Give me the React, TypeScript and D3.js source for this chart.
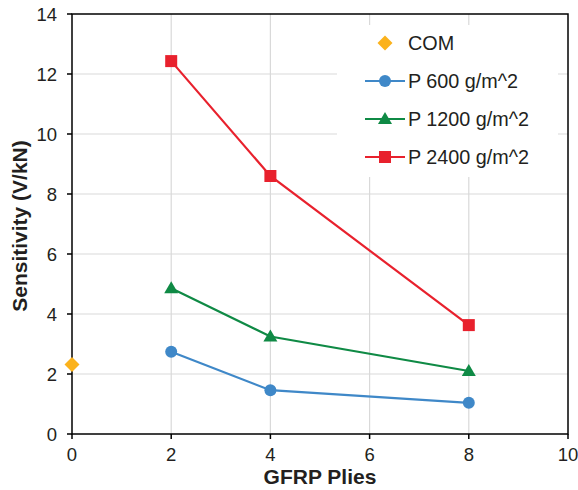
import React from "react";
import * as d3 from "d3";

const plies = [2, 4, 8];
const comPlies = [0];
const comValues = [2.32];
const p600 = [2.74, 1.46, 1.04];
const p1200 = [4.86, 3.25, 2.1];
const p2400 = [12.43, 8.6, 3.63];
const xTicks = [0, 2, 4, 6, 8, 10];
const yTicks = [0, 2, 4, 6, 8, 10, 12, 14];
const legendLabels = ["COM", "P 600 g/m^2", "P 1200 g/m^2", "P 2400 g/m^2"];

const W = 578;
const H = 490;
const left = 72;
const right = 568;
const top = 14;
const bottom = 434;

const font = "'Liberation Sans', Arial, Helvetica, sans-serif";

type Shape = "diamond" | "circle" | "triangle" | "square";

const series = [
  { name: legendLabels[1], values: p600, color: "#3f88c8", shape: "circle" as Shape },
  { name: legendLabels[2], values: p1200, color: "#0f8a45", shape: "triangle" as Shape },
  { name: legendLabels[3], values: p2400, color: "#e8212d", shape: "square" as Shape },
];

function Marker({ shape, x, y, color }: { shape: Shape; x: number; y: number; color: string }) {
  if (shape === "circle") return <circle cx={x} cy={y} r={6} fill={color} />;
  if (shape === "square") return <rect x={x - 6} y={y - 6} width={12} height={12} fill={color} />;
  if (shape === "triangle")
    return <path d={`M${x},${y - 7}L${x + 7},${y + 5}L${x - 7},${y + 5}Z`} fill={color} />;
  return <path d={`M${x},${y - 7.5}L${x + 7.5},${y}L${x},${y + 7.5}L${x - 7.5},${y}Z`} fill={color} />;
}

export default function App() {
  const x = d3.scaleLinear().domain([0, 10]).range([left, right]);
  const y = d3.scaleLinear().domain([0, 14]).range([bottom, top]);
  const line = d3
    .line<[number, number]>()
    .x((d) => x(d[0]))
    .y((d) => y(d[1]));

  const legendX = 337;
  const legendY = 25;
  const rowY = [43, 81, 119, 157];

  return (
    <svg width={W} height={H} style={{ display: "block", position: "absolute", left: 0, top: 0 }}>
      <rect width={W} height={H} fill="#fff" />
      {/* grid */}
      {yTicks.slice(1, -1).map((t) => (
        <line key={"gy" + t} x1={left} x2={right} y1={y(t)} y2={y(t)} stroke="#d9d9d9" strokeWidth={1.2} />
      ))}
      {xTicks.slice(1, -1).map((t) => (
        <line key={"gx" + t} x1={x(t)} x2={x(t)} y1={top} y2={bottom} stroke="#d9d9d9" strokeWidth={1.2} />
      ))}
      {/* legend background */}
      <rect x={legendX} y={legendY} width={558 - legendX} height={177 - legendY} fill="#fff" />
      {/* frame */}
      <rect x={left} y={top} width={right - left} height={bottom - top} fill="none" stroke="#000" strokeWidth={1.5} />
      {yTicks.map((t) => (
        <g key={"ty" + t}>
          <line x1={left - 5} x2={left} y1={y(t)} y2={y(t)} stroke="#000" strokeWidth={1.5} />
          <text x={57} y={y(t)} dy="0.36em" textAnchor="end" fontFamily={font} fontSize={18.5} fill="#231f20">
            {t}
          </text>
        </g>
      ))}
      {xTicks.map((t) => (
        <g key={"tx" + t}>
          <line x1={x(t)} x2={x(t)} y1={bottom} y2={bottom + 5} stroke="#000" strokeWidth={1.5} />
          <text x={x(t)} y={461} textAnchor="middle" fontFamily={font} fontSize={18.5} fill="#231f20">
            {t}
          </text>
        </g>
      ))}
      {/* series */}
      {series.map((s) => (
        <g key={s.name}>
          <path
            d={line(plies.map((p, i) => [p, s.values[i]] as [number, number])) || ""}
            fill="none"
            stroke={s.color}
            strokeWidth={2.2}
          />
          {plies.map((p, i) => (
            <Marker key={p} shape={s.shape} x={x(p)} y={y(s.values[i])} color={s.color} />
          ))}
        </g>
      ))}
      {comPlies.map((p, i) => (
        <Marker key={"com" + p} shape="diamond" x={x(p)} y={y(comValues[i])} color="#fbb21c" />
      ))}
      {/* legend */}
      <Marker shape="diamond" x={385} y={rowY[0]} color="#fbb21c" />
      <text x={408} y={rowY[0]} dy="0.36em" fontFamily={font} fontSize={19.8} fill="#231f20">
        {legendLabels[0]}
      </text>
      {series.map((s, i) => (
        <g key={"lg" + s.name}>
          <line x1={365} x2={405} y1={rowY[i + 1]} y2={rowY[i + 1]} stroke={s.color} strokeWidth={2.2} />
          <Marker shape={s.shape} x={385} y={rowY[i + 1]} color={s.color} />
          <text x={408} y={rowY[i + 1]} dy="0.36em" fontFamily={font} fontSize={19.8} fill="#231f20">
            {s.name}
          </text>
        </g>
      ))}
      {/* axis titles */}
      <text x={(left + right) / 2} y={484} textAnchor="middle" fontFamily={font} fontSize={21} fontWeight="bold" fill="#231f20">
        GFRP Plies
      </text>
      <text
        transform={`translate(27,${(top + bottom) / 2 + 2}) rotate(-90)`}
        textAnchor="middle"
        fontFamily={font}
        fontSize={21}
        fontWeight="bold"
        fill="#231f20"
      >
        Sensitivity (V/kN)
      </text>
    </svg>
  );
}
